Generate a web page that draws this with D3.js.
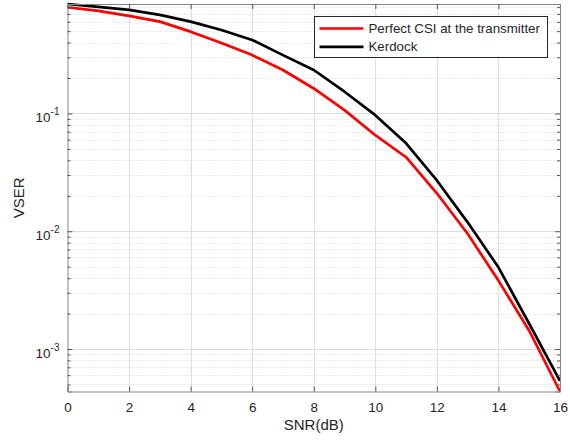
<!DOCTYPE html>
<html>
<head>
<meta charset="utf-8">
<script src="https://cdn.jsdelivr.net/npm/d3@7"></script>
<style>
  body { margin: 0; background: #fff; }
  text { font-family: "Liberation Sans", Arial, sans-serif; fill: #262626; }
</style>
</head>
<body>
<div id="chart"></div>
<script>
// data
const snr = [0, 1, 2, 3, 4, 5, 6, 7, 8, 9, 10, 11, 12, 13, 14, 15, 16];
const perfectCSI = [0.798, 0.743, 0.673, 0.602, 0.495, 0.396, 0.313, 0.234, 0.163, 0.1067,
  0.0654, 0.0425, 0.0210, 0.00952, 0.00381, 0.00143, 0.000436];
const kerdock = [0.85, 0.803, 0.757, 0.687, 0.602, 0.511, 0.421, 0.313, 0.234, 0.153,
  0.0967, 0.0558, 0.0270, 0.0119, 0.00494, 0.00164, 0.000537];
const seriesNames = ["Perfect CSI at the transmitter", "Kerdock"];
const seriesColors = ["#ff0000", "#000000"];
const xTicks = [0, 2, 4, 6, 8, 10, 12, 14, 16];
const yDecades = [-3, -2, -1];

const width = 570, height = 445;
const margin = { left: 67.5, right: 10, top: 4, bottom: 53.5 };

const svg = d3.select("#chart").append("svg")
  .attr("width", width).attr("height", height);

const x = d3.scaleLinear().domain([0, 16]).range([margin.left, width - margin.right]);
const y = d3.scaleLog().domain([0.000436, 0.85]).range([height - margin.bottom, margin.top]);

const x0 = x.range()[0], x1 = x.range()[1];
const yB = y.range()[0], yT = y.range()[1];

// minor ticks 2..9 times each decade
const minor = [];
for (let e = -4; e <= 0; e++) {
  for (let m = 2; m <= 9; m++) {
    const v = m * Math.pow(10, e);
    if (v > y.domain()[0] && v < y.domain()[1]) minor.push(v);
  }
}
const major = yDecades.map(e => Math.pow(10, e));

const grid = svg.append("g");
grid.selectAll(".ymin").data(minor).join("line")
  .attr("x1", x0).attr("x2", x1)
  .attr("y1", d => Math.round(y(d)) + 0.5).attr("y2", d => Math.round(y(d)) + 0.5)
  .attr("stroke", "#d9d9d9").attr("stroke-dasharray", "1,2");
grid.selectAll(".ymaj").data(major).join("line")
  .attr("x1", x0).attr("x2", x1)
  .attr("y1", d => Math.round(y(d)) + 0.5).attr("y2", d => Math.round(y(d)) + 0.5)
  .attr("stroke", "#dedede");
grid.selectAll(".xmaj").data(xTicks.slice(1, -1)).join("line")
  .attr("y1", yB).attr("y2", yT)
  .attr("x1", d => Math.round(x(d)) + 0.5).attr("x2", d => Math.round(x(d)) + 0.5)
  .attr("stroke", "#dedede");

// curves
const line = d3.line().x((d, i) => x(snr[i])).y(d => y(d));
[perfectCSI, kerdock].forEach((s, k) => {
  svg.append("path").datum(s)
    .attr("d", line)
    .attr("fill", "none")
    .attr("stroke", seriesColors[k])
    .attr("stroke-width", 2.7)
    .attr("stroke-linejoin", "round");
});

// axes box with inward ticks (left/right/top/bottom)
const axisColor = "#858585";
const bottomAxis = d3.axisBottom(x).tickValues(xTicks).tickSize(-5).tickPadding(11).tickFormat(d3.format("d"));
const topAxis = d3.axisTop(x).tickValues(xTicks).tickSize(-5).tickFormat("");
const leftAxis = d3.axisLeft(y).tickValues(major).tickSize(-5).tickFormat("");
const rightAxis = d3.axisRight(y).tickValues(major).tickSize(-5).tickFormat("");
const leftMinor = d3.axisLeft(y).tickValues(minor).tickSize(-3).tickFormat("");
const rightMinor = d3.axisRight(y).tickValues(minor).tickSize(-3).tickFormat("");

function styleAxis(g) {
  g.selectAll("path").attr("stroke", axisColor);
  g.selectAll("line").attr("stroke", "#555");
  g.selectAll("text").style("font-size", "13.5px").attr("fill", "#262626")
    .style("font-family", '"Liberation Sans", Arial, sans-serif');
}

svg.append("g").attr("transform", `translate(0,${yB})`).call(bottomAxis).call(styleAxis);
svg.append("g").attr("transform", `translate(0,${yT})`).call(topAxis).call(styleAxis);
svg.append("g").attr("transform", `translate(${x0},0)`).call(leftAxis).call(styleAxis);
svg.append("g").attr("transform", `translate(${x1},0)`).call(rightAxis).call(styleAxis);
svg.append("g").attr("transform", `translate(${x0},0)`).call(leftMinor).call(styleAxis)
  .select(".domain").remove();
svg.append("g").attr("transform", `translate(${x1},0)`).call(rightMinor).call(styleAxis)
  .select(".domain").remove();

// y tick labels 10^e
const yLab = svg.append("g");
yDecades.forEach(e => {
  const t = yLab.append("text")
    .attr("x", x0 - 8).attr("y", y(Math.pow(10, e)) + 9)
    .attr("text-anchor", "end").style("font-size", "13.5px");
  t.append("tspan").text("10");
  t.append("tspan").attr("dy", -7).style("font-size", "10px").text(String(e));
});

// axis labels
svg.append("text").attr("x", (x0 + x1) / 2).attr("y", 430)
  .attr("text-anchor", "middle").style("font-size", "15px").text("SNR(dB)");
svg.append("text")
  .attr("transform", `translate(24,${(yT + yB) / 2}) rotate(-90)`)
  .attr("text-anchor", "middle").style("font-size", "15px").text("VSER");

// legend
const lg = svg.append("g").attr("transform", "translate(314.5,16.5)");
lg.append("rect").attr("width", 233).attr("height", 41)
  .attr("fill", "#fff").attr("stroke", "#262626").attr("stroke-width", 1);
seriesNames.forEach((name, i) => {
  const cy = 12 + i * 18.3;
  lg.append("line").attr("x1", 5).attr("x2", 49).attr("y1", cy).attr("y2", cy)
    .attr("stroke", seriesColors[i]).attr("stroke-width", 2.7);
  lg.append("text").attr("x", 54).attr("y", cy + 4.5)
    .style("font-size", "13.3px").attr("fill", "#000").text(name);
});
</script>
</body>
</html>
